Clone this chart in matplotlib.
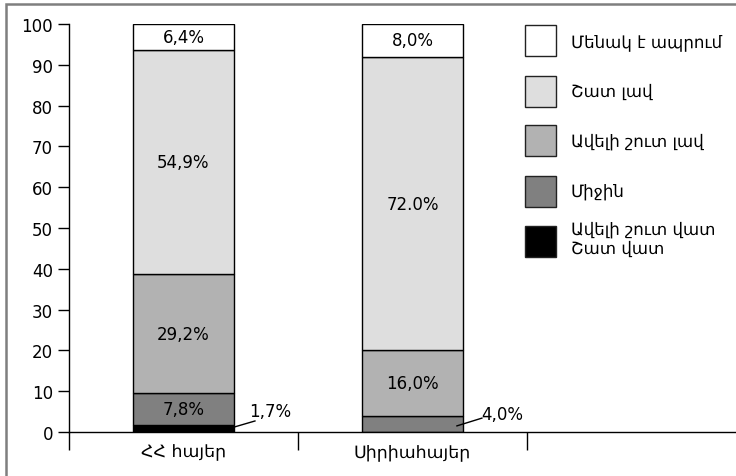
import matplotlib
matplotlib.use("Agg")
import matplotlib.pyplot as plt
from matplotlib.patches import Rectangle
import numpy as np

plt.rcParams['font.family'] = ['DejaVu Sans']

categories = ["ՀՀ հայեր", "Սիրիահայեր"]
series_names = ["Ավելի շուտ վատ\nՇատ վատ", "Միջին", "Ավելի շուտ լավ", "Շատ լավ", "Մենակ է ապրում"]
very_bad = [1.7, 0.0]
average = [7.8, 4.0]
rather_good = [29.2, 16.0]
very_good = [54.9, 72.0]
alone = [6.4, 8.0]
series = [very_bad, average, rather_good, very_good, alone]
labels_text = [["1,7%", ""], ["7,8%", "4,0%"], ["29,2%", "16,0%"], ["54,9%", "72.0%"], ["6,4%", "8,0%"]]
colors = ["#000000", "#808080", "#b2b2b2", "#dedede", "#ffffff"]
yticks = [0, 10, 20, 30, 40, 50, 60, 70, 80, 90, 100]

W, H = 736, 477
fig = plt.figure(figsize=(W / 100, H / 100), dpi=100)
ax = fig.add_axes([69 / W, (H - 433) / H, (W - 69) / W, (433 - 25) / H])

x = np.arange(len(categories))
bw = 0.44
bottom = np.zeros(len(categories))
for vals, col, labs in zip(series, colors, labels_text):
    v = np.array(vals)
    ax.bar(x, v, bw, bottom=bottom, color=col, edgecolor="black", linewidth=1.0, zorder=2)
    for i in range(len(categories)):
        if v[i] >= 6:
            ax.text(x[i], bottom[i] + v[i] / 2, labs[i], ha="center", va="center", fontsize=12)
    bottom += v

# outside labels with leader lines
ax.plot([0.2205, 0.312], [1.2, 2.7], color="black", lw=1.0, zorder=3)
ax.text(0.286, 5.2, labels_text[0][0], ha="left", va="center", fontsize=12)
ax.plot([1.194, 1.303], [1.5, 3.4], color="black", lw=1.0, zorder=3)
ax.text(1.299, 4.4, labels_text[1][1], ha="left", va="center", fontsize=12)

ax.set_ylim(0, 100)
ax.set_xlim(-0.5, 1.5 + 209 * 2 / 458)
ax.set_yticks(yticks)
ax.set_yticklabels([str(t) for t in yticks], fontsize=12)
ax.set_xticks([-0.5, 0.5, 1.5])
ax.set_xticklabels(["", "", ""])
ax.tick_params(axis="y", length=8, width=1.0, pad=3.5)
ax.tick_params(axis="x", length=13, width=1.0)
for i, c in enumerate(categories):
    ax.text(x[i], -4.6, c, ha="center", va="center", fontsize=12.5)
for s in ["top", "right"]:
    ax.spines[s].set_visible(False)
for s in ["left", "bottom"]:
    ax.spines[s].set_linewidth(1.0)
ax.spines["left"].set_bounds(0, 100)

# legend
def px(xp, yp):
    return xp / W, 1 - yp / H

legend_centers = [41, 92, 141, 192, 242]
text_y = [42, 92, 142, 192, 239]
legend_order = [4, 3, 2, 1, 0]
for k, si in enumerate(legend_order):
    cy = legend_centers[k]
    x0, y0 = px(525, cy + 15.5)
    fig.add_artist(Rectangle((x0, y0), 31 / W, 31 / H, transform=fig.transFigure,
                             facecolor=colors[si], edgecolor="#222222", linewidth=1.0))
    tx, ty = px(571, text_y[k])
    fig.text(tx, ty, series_names[si], ha="left", va="center", fontsize=12, linespacing=1.1)

# outer border
bx, by = px(6, 700)
fig.add_artist(Rectangle((bx, by), 1.2, (700 - 5) / H, transform=fig.transFigure,
                         facecolor="none", edgecolor="#7f7f7f", linewidth=1.8))

fig.savefig("out.png", dpi=100)
